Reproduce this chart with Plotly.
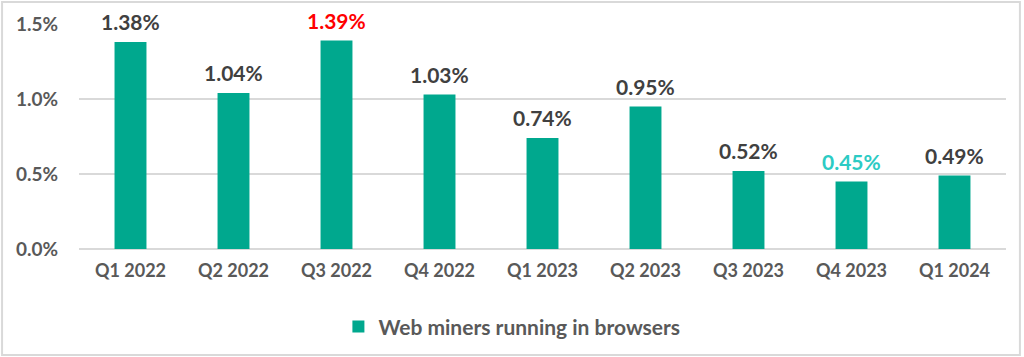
import plotly.graph_objects as go

categories = ["Q1 2022", "Q2 2022", "Q3 2022", "Q4 2022", "Q1 2023",
              "Q2 2023", "Q3 2023", "Q4 2023", "Q1 2024"]
values = [1.38, 1.04, 1.39, 1.03, 0.74, 0.95, 0.52, 0.45, 0.49]
label_colors = ["#404040", "#404040", "#FF0000", "#404040", "#404040",
                "#404040", "#404040", "#2CCBC4", "#404040"]
series_name = "Web miners running in browsers"
tick_vals = [0.0, 0.5, 1.0, 1.5]
tick_text = ["0.0%", "0.5%", "1.0%", "1.5%"]

FONT = "Lato"

fig = go.Figure()
fig.add_trace(go.Bar(
    x=categories,
    y=values,
    name=series_name,
    marker=dict(color="#00A88E", line=dict(width=0)),
    width=0.31,
    showlegend=True,
    hoverinfo="skip",
))

for cat, v, col in zip(categories, values, label_colors):
    fig.add_annotation(
        x=cat, y=v, text=f"{v:.2f}%", showarrow=False,
        xanchor="center", yanchor="bottom", yshift=6,
        font=dict(family=FONT, size=21, color=col, weight="bold"),
    )

fig.update_layout(
    width=1024, height=357,
    margin=dict(l=79, r=18, t=24, b=108, autoexpand=False),
    paper_bgcolor="white",
    plot_bgcolor="white",
    bargap=0.69,
    font=dict(family=FONT, color="#595959"),
    xaxis=dict(
        tickfont=dict(family=FONT, size=18, color="#595959", weight="bold"),
        showgrid=False, showline=False, ticks="",
        ticklabelstandoff=9, automargin=False,
    ),
    yaxis=dict(
        range=[0, 1.5],
        tickvals=tick_vals, ticktext=tick_text,
        tickfont=dict(family=FONT, size=19, color="#595959", weight="bold"),
        showgrid=True, gridcolor="#D9D9D9", gridwidth=1.5,
        zeroline=True, zerolinecolor="#D9D9D9", zerolinewidth=1.5,
        showline=False, ticks="", ticklabelstandoff=20, automargin=False,
    ),
    legend=dict(
        orientation="h", x=0.467, xanchor="center", y=-0.255, yanchor="top",
        font=dict(family=FONT, size=21, color="#595959", weight="bold"),
        itemwidth=30,
    ),
    shapes=[dict(type="rect", xref="paper", yref="paper",
                 x0=-0.083, x1=1.015, y0=-0.471, y1=1.098,
                 line=dict(color="#D9D9D9", width=2), layer="below")],
)

fig.write_html("out.html",
               config={"displayModeBar": False},
               post_script="document.body.style.margin='0';document.body.style.overflow='hidden';")
